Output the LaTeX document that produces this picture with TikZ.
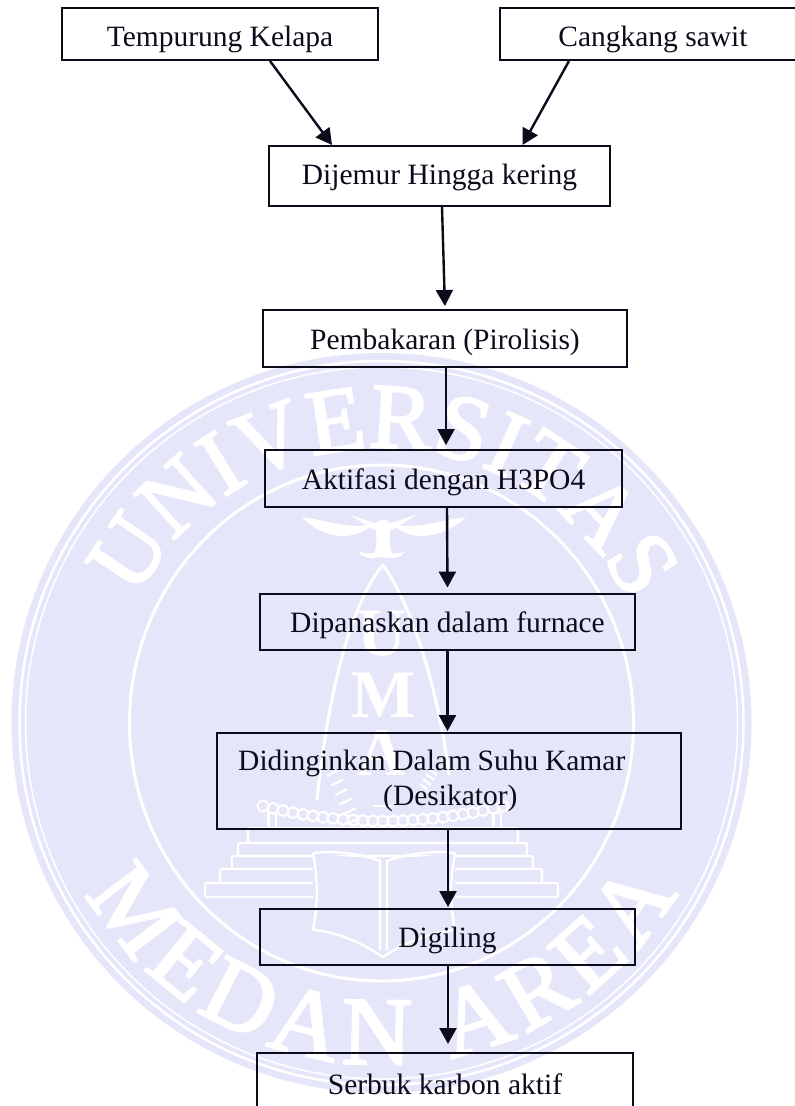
\documentclass[tikz,border=0pt]{standalone}
\usepackage{fontspec}
\setmainfont{Liberation Serif}
\newfontfamily\wmfont[RawFeature={embolden=2.5}]{Liberation Serif}
\usetikzlibrary{arrows.meta,decorations.text,positioning}
\definecolor{wm}{HTML}{E6E6FA}
\definecolor{ink}{HTML}{0B0B1A}
\tikzset{
  box/.style={draw=ink,line width=2pt,rectangle,inner sep=0pt,text=ink,
    font=\fontsize{29.5}{35}\selectfont,anchor=center},
  bl/.style={text depth=0pt,text height=#1},
  flow/.style={draw=ink,line width=2.4pt,-{Triangle[length=16pt,width=17pt]}},
  wmline/.style={draw=white,line width=2.4pt,line join=round},
  wmstair/.style={draw=white,line width=2.2pt,fill=wm,rounded corners=2pt},
  wmletter/.style={text=white,font=\fontsize{68}{68}\bfseries\selectfont},
}
\begin{document}
\begin{tikzpicture}[x=1pt,y=-1pt]
\useasboundingbox (0,0) rectangle (795,1106);
\clip (0,0) rectangle (795,1106);
\fill[white] (0,0) rectangle (795,1106);
% --- watermark: seal
\begin{scope}[x=1pt,y=1pt,shift={(381.5,-723)}]
  \fill[wm] (0,0) circle (370pt);
  \draw[white,line width=2.5pt] (0,0) circle (362pt);
  \draw[white,line width=1.5pt] (0,0) circle (356pt);
  \draw[white,line width=3pt] (0,0) ellipse (252pt and 258pt);
  \path[decorate,decoration={text along path,text align=fit to path,
    text={|\wmfont\fontsize{93}{93}\selectfont\color{white}|UNIVERSITAS}}]
    (153:275) arc[start angle=153,end angle=27,radius=275];
  \path[decorate,decoration={text along path,text align=fit to path,
    text={|\wmfont\fontsize{97}{97}\selectfont\color{white}|MEDAN AREA}}]
    (210:341) arc[start angle=210,end angle=330,radius=341];
\end{scope}
% --- watermark: emblem
% bird
\fill[white] (302,517) .. controls (325,520) and (350,530) .. (372,524)
  .. controls (360,540) and (325,542) .. (302,517) -- cycle;
\fill[white] (466,517) .. controls (442,520) and (415,530) .. (393,524)
  .. controls (405,540) and (440,542) .. (466,517) -- cycle;
\fill[white] (350,515) -- (378,524) -- (374,530) -- cycle;
\fill[white] (416,515) -- (388,524) -- (392,530) -- cycle;
\fill[white] (375,525) .. controls (378,518) and (388,518) .. (391,525)
  .. controls (390,535) and (388,545) .. (392,553) -- (374,553)
  .. controls (378,545) and (376,535) .. (375,525) -- cycle;
\fill[white] (358,551) .. controls (370,556) and (378,552) .. (383,551)
  .. controls (390,552) and (396,556) .. (405,551)
  .. controls (400,560) and (390,558) .. (383,557)
  .. controls (375,558) and (363,560) .. (358,551) -- cycle;
% arch
\draw[wmline,line width=3pt] (317,800) .. controls (325,720) and (345,610) .. (383,565)
  .. controls (415,610) and (440,700) .. (449,775);
% UMA
\node[wmletter] (lu) at (382,634) {U};
\node[wmletter] (lm) at (384,695) {M};
\node[wmletter] (la) at (382,753) {A};
% sprigs
\foreach \t in {0,1,...,9}{
  \draw[white,line width=2.4pt] (333+4.2*\t,773+10*\t/1.05) ++(-6,3) -- ++(12,-6);
}
\draw[white,line width=2pt] (373,806) -- (392,806);
\foreach \t in {0,1,2,3}{
  \draw[white,line width=2.4pt] (433-3*\t,772+5*\t) ++(-4,-3) -- ++(8,6);
}
% posts
\fill[white] (267,812) rectangle (277,828);
\fill[white] (492,812) rectangle (502,828);
\fill[wm] (269.5,814) rectangle (274.5,828);
\fill[wm] (494.5,814) rectangle (499.5,828);
% chain
\foreach \x in {263,273,...,503}{
  \pgfmathsetmacro{\yy}{806+15*(1-((\x-383)/120)^2)}
  \draw[white,line width=2pt] (\x,\yy) circle (5.5pt);
}
% stairs
\draw[wmstair] (205,883) rectangle (558,897);
\draw[wmstair] (220,869) rectangle (542,883);
\draw[wmstair] (232,856) rectangle (533,869);
\draw[wmstair] (238,843) rectangle (527,856);
\draw[wmstair] (248,828) rectangle (518,843);
% book
\fill[wm] (313,853) -- (380,860) -- (387,860) -- (455,853) -- (455,930) -- (383,958) -- (313,930) -- cycle;
\draw[wmline] (313,853) .. controls (340,850) and (365,855) .. (380,861)
  -- (380,950);
\draw[wmline] (455,853) .. controls (430,850) and (402,855) .. (387,861)
  -- (387,950);
\draw[wmline] (313,853) .. controls (318,880) and (318,905) .. (313,930)
  .. controls (340,932) and (365,945) .. (383,957)
  .. controls (400,945) and (430,932) .. (455,930)
  .. controls (450,905) and (450,880) .. (455,853);
% --- flowchart
\node[box,bl=25pt,minimum width=316pt,minimum height=52pt] (kelapa) at (220,34) {Tempurung Kelapa};
\node[box,bl=25pt,minimum width=306pt,minimum height=52pt] (sawit) at (653,34) {Cangkang sawit};
\node[box,bl=17pt,minimum width=341pt,minimum height=60pt] (jemur) at (439.5,176) {Dijemur Hingga kering};
\node[box,bl=21pt,minimum width=364pt,minimum height=57pt] (bakar) at (445,338.5) {Pembakaran (Pirolisis)};
\node[box,bl=21.4pt,minimum width=357pt,minimum height=56.5pt] (aktif) at (443.5,478.3) {Aktifasi dengan H3PO4};
\node[box,bl=21pt,minimum width=375pt,minimum height=56.5pt] (panas) at (447.5,621.8) {Dipanaskan dalam furnace};
\node[box,text width=422pt,inner xsep=21pt,align=left,minimum height=95.5pt] (dingin) at (449.2,780.8)
  {\spaceskip=6.7pt\relax Didinginkan Dalam Suhu Kamar\\\hspace*{145pt}(Desikator)};
\node[box,bl=20.5pt,minimum width=375pt,minimum height=56pt] (giling) at (447.5,937) {Digiling};
\node[box,bl=20pt,minimum width=376pt,minimum height=62pt] (serbuk) at (445,1084) {Serbuk karbon aktif};
\draw[flow] ([xshift=50pt]kelapa.south) -- ([xshift=-107.5pt]jemur.north);
\draw[flow] ([xshift=-84pt]sawit.south) -- ([xshift=83pt]jemur.north);
\draw[flow,shorten >=3pt] ([xshift=2.5pt]jemur.south) -- (bakar.north);
\draw[flow,shorten >=4pt] ([xshift=1pt]bakar.south) -- ([xshift=2.5pt]aktif.north);
\draw[flow,shorten >=5pt] ([xshift=3.5pt]aktif.south) -- (panas.north);
\draw[flow,shorten >=1pt] (panas.south) -- ([xshift=-1.7pt]dingin.north);
\draw[flow,shorten >=1pt] ([xshift=-1.2pt]dingin.south) -- ([xshift=.5pt]giling.north);
\draw[flow,shorten >=8pt] ([xshift=.5pt]giling.south) -- ([xshift=3pt]serbuk.north);
\end{tikzpicture}
\end{document}
